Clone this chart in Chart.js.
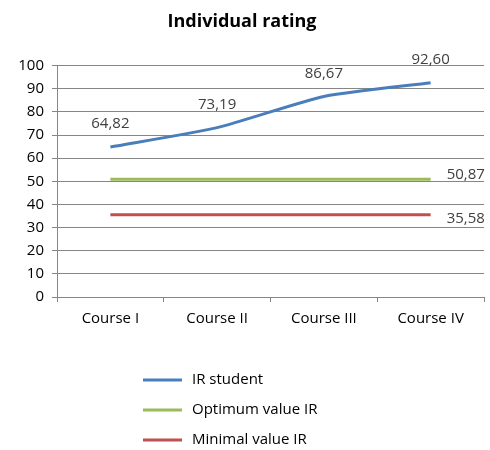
<!DOCTYPE html>
<html>
<head>
<meta charset="utf-8">
<script src="https://cdn.jsdelivr.net/npm/chart.js@4.4.0/dist/chart.umd.min.js"></script>
<style>
  html, body { margin: 0; padding: 0; background: #fff; }
  #wrap { width: 490px; height: 450px; }
</style>
</head>
<body>
<div id="wrap"><canvas id="ratingChart" width="490" height="450"></canvas></div>
<script>
const courses = ['Course I', 'Course II', 'Course III', 'Course IV'];
const irStudent = [64.82, 73.19, 86.67, 92.60];
const optimumIR = [50.87, 50.87, 50.87, 50.87];
const minimalIR = [35.58, 35.58, 35.58, 35.58];
const seriesNames = ['IR student', 'Optimum value IR', 'Minimal value IR'];
const yTicks = [0, 10, 20, 30, 40, 50, 60, 70, 80, 90, 100];

const FONT = '"Open Sans", sans-serif';

// value labels: all points for the student line, only the last one for the flat lines
const valueLabels = {
  id: 'valueLabels',
  afterDatasetsDraw(chart) {
    const ctx = chart.ctx;
    ctx.save();
    ctx.font = '15px ' + FONT;
    ctx.fillStyle = '#404040';
    chart.data.datasets.forEach((ds, i) => {
      const meta = chart.getDatasetMeta(i);
      meta.data.forEach((pt, j) => {
        const txt = ds.data[j].toFixed(2).replace('.', ',');
        if (i === 0) {
          ctx.textAlign = 'center';
          ctx.textBaseline = 'middle';
          ctx.fillText(txt, pt.x, pt.y - 23);
        } else if (j === ds.data.length - 1) {
          ctx.textAlign = 'left';
          ctx.textBaseline = 'middle';
          ctx.fillText(txt, pt.x + 16, pt.y + (i === 1 ? -5 : 4));
        }
      });
    });
    ctx.restore();
  }
};

// vertical legend under the axis
const stackedLegend = {
  id: 'stackedLegend',
  afterDraw(chart) {
    const ctx = chart.ctx;
    ctx.save();
    ctx.font = '15px ' + FONT;
    ctx.textAlign = 'left';
    ctx.textBaseline = 'middle';
    chart.data.datasets.forEach((ds, i) => {
      const y = 380 + i * 30;
      ctx.strokeStyle = ds.borderColor;
      ctx.lineWidth = 3;
      ctx.beginPath();
      ctx.moveTo(143, y);
      ctx.lineTo(182, y);
      ctx.stroke();
      ctx.fillStyle = '#000';
      ctx.fillText(ds.label, 192, y);
    });
    ctx.restore();
  }
};

new Chart(document.getElementById('ratingChart'), {
  type: 'line',
  data: {
    labels: courses,
    datasets: [
      { label: seriesNames[0], data: irStudent, borderColor: '#4a7ebb', borderWidth: 3, tension: 0.2, pointRadius: 0 },
      { label: seriesNames[1], data: optimumIR, borderColor: '#9bbb59', borderWidth: 3, pointRadius: 0 },
      { label: seriesNames[2], data: minimalIR, borderColor: '#c0504d', borderWidth: 3, pointRadius: 0 }
    ]
  },
  options: {
    responsive: false,
    animation: false,
    layout: { padding: { left: 0, right: 6, top: 0, bottom: 0 } },
    plugins: {
      legend: { display: false },
      tooltip: { enabled: false },
      title: {
        display: true,
        text: 'Individual rating',
        color: '#000',
        font: { family: FONT, size: 18, weight: 'bold', lineHeight: 1.2 },
        padding: { top: 11, bottom: 33 }
      }
    },
    scales: {
      x: {
        offset: true,
        afterFit(axis) { axis.height = 153; },
        grid: { offset: true, drawOnChartArea: false, drawTicks: true, tickLength: 5, color: '#868686' },
        border: { color: '#868686' },
        ticks: { color: '#000', font: { family: FONT, size: 15 }, padding: 8 }
      },
      y: {
        min: 0,
        max: 100,
        afterBuildTicks(axis) { axis.ticks = yTicks.map(v => ({ value: v })); },
        afterFit(axis) { axis.width = 57; },
        grid: { color: '#868686', tickLength: 5 },
        border: { color: '#868686' },
        ticks: { color: '#000', font: { family: FONT, size: 15 }, padding: 8 }
      }
    }
  },
  plugins: [valueLabels, stackedLegend]
});
</script>
</body>
</html>
